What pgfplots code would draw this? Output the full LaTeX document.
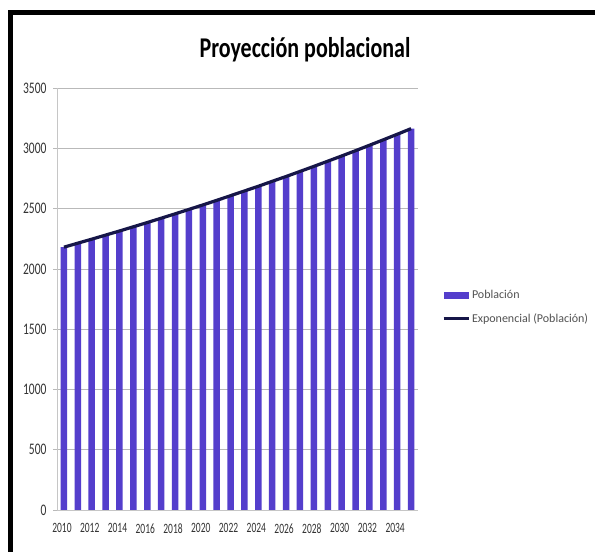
\documentclass[border=0pt]{standalone}
\usepackage{pgfplots}
\pgfplotsset{compat=1.18}
\usepackage{fontspec}
\setmainfont{Carlito}
\definecolor{barblue}{RGB}{84,62,204}
\definecolor{trendnavy}{RGB}{22,22,72}
\begin{document}
\begin{tikzpicture}[x=1pt,y=1pt]
\useasboundingbox (0,0) rectangle (595,552);
\fill[white] (0,0) rectangle (595,552);
\draw[line width=5pt] (10.5,-5) -- (10.5,539.5) -- (600,539.5);
\node at (305,502) {\scalebox{1}[1.3]{\fontsize{22}{26}\selectfont\bfseries Proyección poblacional}};
\begin{axis}[
  at={(57pt,42pt)}, anchor=south west,
  scale only axis, width=361pt, height=422pt,
  xmin=2009.5, xmax=2035.5, ymin=0, ymax=3500,
  ytick={0,500,...,3500},
  xtick={2010,2012,...,2034},
  ymajorgrids, grid style={gray!55, line width=0.6pt},
  axis x line*=bottom, axis y line*=left,
  axis line style={gray!45, line width=0.6pt},
  x axis line style={-}, y axis line style={-},
  tick align=outside,
  ytick style={gray!55, line width=0.6pt},
  major tick length=4pt,
  xtick style={draw=none},
  /pgf/number format/assume math mode=true,
  /pgf/number format/set thousands separator={},
  yticklabel style={font=\fontsize{11.5}{13}\selectfont, text=black!80, xshift=-3pt},
  xticklabel style={font=\fontsize{9.5}{11}\selectfont, text=black!80, yshift=-6pt, xshift=-2pt},
  yticklabel={\scalebox{1}[1.4]{\pgfmathprintnumber{\tick}}},
  xticklabel={\scalebox{1}[1.5]{\pgfmathprintnumber{\tick}}},
  legend style={at={(1.066,0.481)}, anchor=west, draw=none, fill=none,
    font=\fontsize{12}{14}\selectfont\color{black!68}, row sep=9pt,
    inner sep=0pt, /tikz/every even column/.append style={column sep=0pt}},
  legend cell align=left,
]
\addplot[ybar, bar width=6.5pt, fill=barblue, draw=none,
  legend image code/.code={\fill[barblue] (0pt,-3.5pt) rectangle (25pt,3.5pt);}]
coordinates {
(2010,2180) (2011,2213) (2012,2246) (2013,2280) (2014,2314) (2015,2349)
(2016,2384) (2017,2420) (2018,2456) (2019,2493) (2020,2530) (2021,2568)
(2022,2607) (2023,2646) (2024,2685) (2025,2726) (2026,2766) (2027,2808)
(2028,2850) (2029,2893) (2030,2936) (2031,2980) (2032,3025) (2033,3070)
(2034,3116) (2035,3163)};
\addlegendentry{Población}
\addplot[trendnavy, line width=3.2pt, sharp plot, no marks,
  legend image code/.code={\draw[trendnavy, line width=3pt] (0pt,0pt) -- (25pt,0pt);}]
coordinates {
(2010,2180) (2011,2213) (2012,2246) (2013,2280) (2014,2314) (2015,2349)
(2016,2384) (2017,2420) (2018,2456) (2019,2493) (2020,2530) (2021,2568)
(2022,2607) (2023,2646) (2024,2685) (2025,2726) (2026,2766) (2027,2808)
(2028,2850) (2029,2893) (2030,2936) (2031,2980) (2032,3025) (2033,3070)
(2034,3116) (2035,3163)};
\addlegendentry{Exponencial (Población)}
\end{axis}
\end{tikzpicture}
\end{document}
